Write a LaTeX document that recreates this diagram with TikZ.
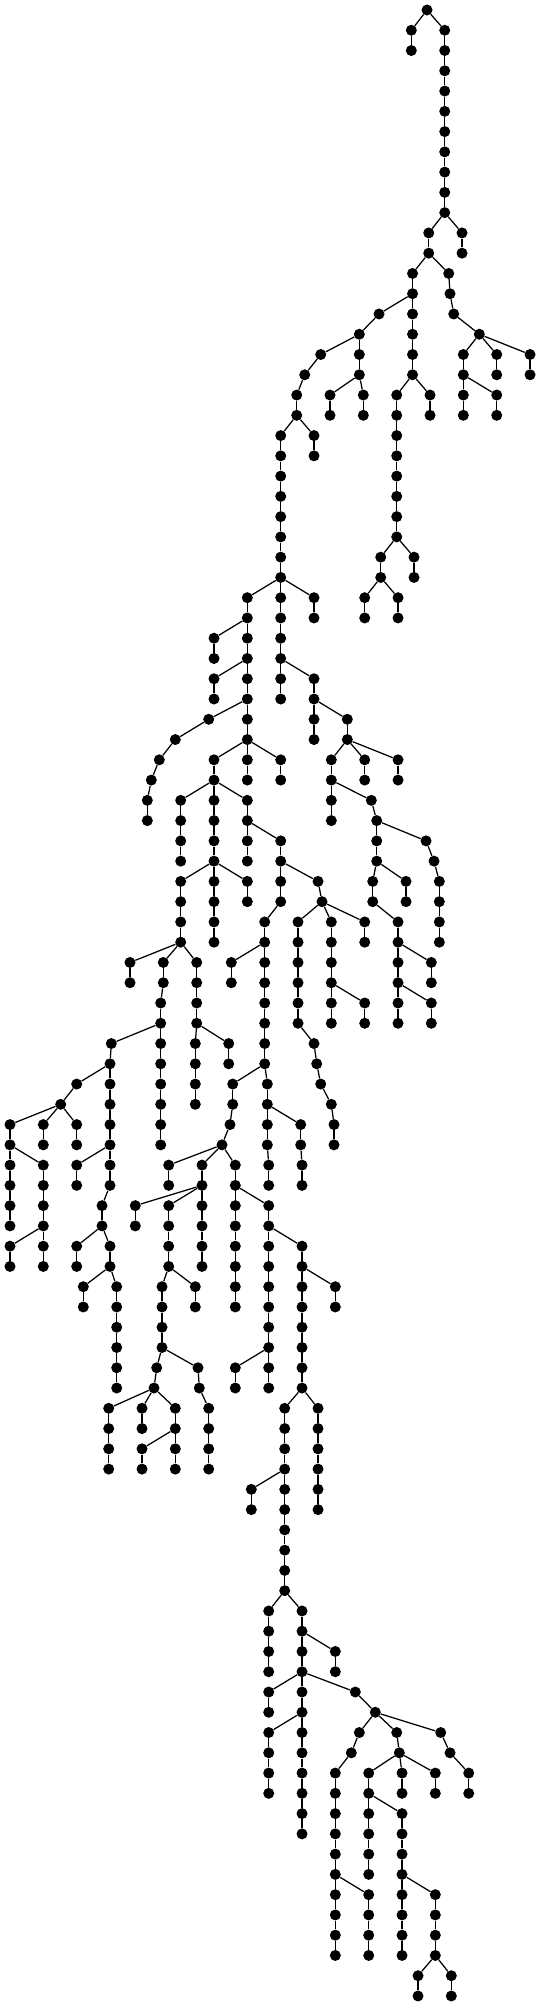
\documentclass[tikz,border=0pt]{standalone}
\tikzset{
  dot/.style={circle,fill=black,draw=none,inner sep=0pt,minimum size=11pt},
  edge/.style={draw=black,line width=1.25pt}
}
% \V{parent column}{column}{first level}{last level}: a chain of nodes
\newcommand\V[4]{\foreach \lev in {#3,...,#4}{%
  \pgfmathtruncatemacro\prv{\lev-1}%
  \ifnum\lev=#3\relax\def\src{#1}\else\def\src{#2}\fi
  \node[dot] (n#2-\lev) at (#2,\lev) {};
  \draw[edge] (n\src-\prv) -- (n#2-\lev);
}}
\begin{document}
\begin{tikzpicture}[x=0.1pt,y=-20.265pt]
\path[use as bounding box,fill=white] (0pt,10pt) rectangle (540pt,-1996pt);
\node[dot] (n4270-0) at (4270,0) {};
\V{4270}{4113}{1}{2}
\V{4270}{4447}{1}{10}
\V{4447}{4287}{11}{12}
\V{4447}{4620}{11}{12}
\V{4287}{4125}{13}{18}
\V{4287}{4487}{13}{13}
\V{4487}{4500}{14}{14}
\V{4500}{4537}{15}{15}
\V{4537}{4793}{16}{16}
\V{4125}{3790}{15}{15}
\V{3790}{3593}{16}{18}
\V{3593}{3207}{17}{17}
\V{3207}{3047}{18}{18}
\V{3047}{2967}{19}{20}
\V{2967}{2807}{21}{34}
\V{2967}{3140}{21}{22}
\V{3593}{3300}{19}{20}
\V{3593}{3633}{19}{20}
\V{4125}{3967}{19}{26}
\V{4125}{4300}{19}{20}
\V{3967}{3807}{27}{28}
\V{3967}{4140}{27}{28}
\V{3807}{3647}{29}{30}
\V{3807}{3980}{29}{30}
\V{4793}{4633}{17}{20}
\V{4793}{4967}{17}{18}
\V{4793}{5300}{17}{18}
\V{4633}{4967}{19}{20}
\V{2807}{2473}{29}{38}
\V{2807}{3140}{29}{30}
\V{2473}{2140}{31}{32}
\V{2473}{2140}{33}{34}
\V{2473}{2087}{35}{35}
\V{2087}{1753}{36}{36}
\V{1753}{1593}{37}{37}
\V{1593}{1513}{38}{38}
\V{1513}{1473}{39}{40}
\V{2473}{2140}{37}{46}
\V{2473}{2807}{37}{38}
\V{2140}{1807}{39}{42}
\V{2140}{2473}{39}{42}
\V{2473}{2807}{41}{44}
\V{2807}{3180}{43}{43}
\V{3180}{3220}{44}{44}
\V{2807}{2647}{45}{52}
\V{2647}{2313}{47}{48}
\V{2647}{2327}{53}{54}
\V{2327}{2300}{55}{55}
\V{2300}{2220}{56}{56}
\V{2647}{2673}{53}{56}
\V{2673}{2687}{57}{58}
\V{2673}{3007}{55}{56}
\V{3007}{3020}{57}{58}
\V{2140}{1807}{43}{46}
\V{2140}{2473}{43}{44}
\V{1807}{1300}{47}{48}
\V{1807}{1633}{47}{48}
\V{1633}{1607}{49}{56}
\V{1807}{1967}{47}{50}
\V{1967}{1953}{51}{54}
\V{1967}{2287}{51}{52}
\V{1607}{1113}{51}{51}
\V{1113}{1100}{52}{58}
\V{1100}{767}{53}{53}
\V{767}{607}{54}{54}
\V{607}{100}{55}{60}
\V{607}{433}{55}{56}
\V{607}{767}{55}{56}
\V{100}{433}{57}{60}
\V{433}{433}{61}{62}
\V{433}{100}{61}{62}
\V{1100}{767}{57}{58}
\V{1100}{1020}{59}{60}
\V{1020}{767}{61}{62}
\V{1020}{1100}{61}{62}
\V{1100}{833}{63}{64}
\V{1100}{1167}{63}{68}
\V{3220}{2980}{45}{50}
\V{3220}{3313}{45}{50}
\V{3220}{3647}{45}{46}
\V{3313}{3647}{49}{50}
\V{2980}{3140}{51}{51}
\V{3140}{3167}{52}{52}
\V{3167}{3207}{53}{53}
\V{3207}{3313}{54}{54}
\V{3313}{3340}{55}{56}
\V{2807}{3140}{33}{36}
\V{3140}{3473}{35}{36}
\V{3473}{3313}{37}{38}
\V{3473}{3647}{37}{38}
\V{3473}{3980}{37}{38}
\V{3313}{3313}{39}{40}
\V{3313}{3713}{39}{39}
\V{3713}{3767}{40}{42}
\V{3767}{4260}{41}{41}
\V{4260}{4340}{42}{42}
\V{4340}{4393}{43}{46}
\V{3767}{3727}{43}{44}
\V{3767}{4060}{43}{44}
\V{3727}{3980}{45}{50}
\V{3980}{4313}{47}{48}
\V{3980}{4313}{49}{50}
\V{2220}{1687}{57}{58}
\V{2220}{2020}{57}{62}
\V{2220}{2353}{57}{64}
\V{2020}{1353}{59}{60}
\V{2020}{1687}{59}{62}
\V{1687}{1620}{63}{66}
\V{1687}{1953}{63}{64}
\V{1620}{1567}{67}{67}
\V{1567}{1540}{68}{68}
\V{1620}{1980}{67}{67}
\V{1980}{1993}{68}{68}
\V{1993}{2087}{69}{72}
\V{1540}{1087}{69}{72}
\V{1540}{1420}{69}{70}
\V{1540}{1753}{69}{72}
\V{1753}{1420}{71}{72}
\V{2353}{2687}{59}{68}
\V{2687}{3020}{61}{68}
\V{3020}{3353}{63}{64}
\V{2687}{2353}{67}{68}
\V{3020}{2847}{69}{78}
\V{3020}{3180}{69}{74}
\V{2847}{2513}{73}{74}
\V{2847}{2687}{79}{82}
\V{2847}{3020}{79}{90}
\V{3020}{3353}{81}{82}
\V{3020}{2687}{83}{84}
\V{3020}{3553}{83}{83}
\V{3553}{3753}{84}{84}
\V{3020}{2687}{85}{88}
\V{3753}{3593}{85}{85}
\V{3593}{3513}{86}{86}
\V{3513}{3353}{87}{96}
\V{3353}{3687}{93}{96}
\V{3753}{3967}{85}{85}
\V{3967}{3993}{86}{86}
\V{3993}{3687}{87}{92}
\V{3993}{4020}{87}{88}
\V{3993}{4353}{87}{88}
\V{3687}{4020}{89}{96}
\V{4020}{4353}{93}{96}
\V{4353}{4180}{97}{98}
\V{4353}{4513}{97}{98}
\V{3753}{4407}{85}{85}
\V{4407}{4500}{86}{86}
\V{4500}{4687}{87}{88}
\end{tikzpicture}
\end{document}
